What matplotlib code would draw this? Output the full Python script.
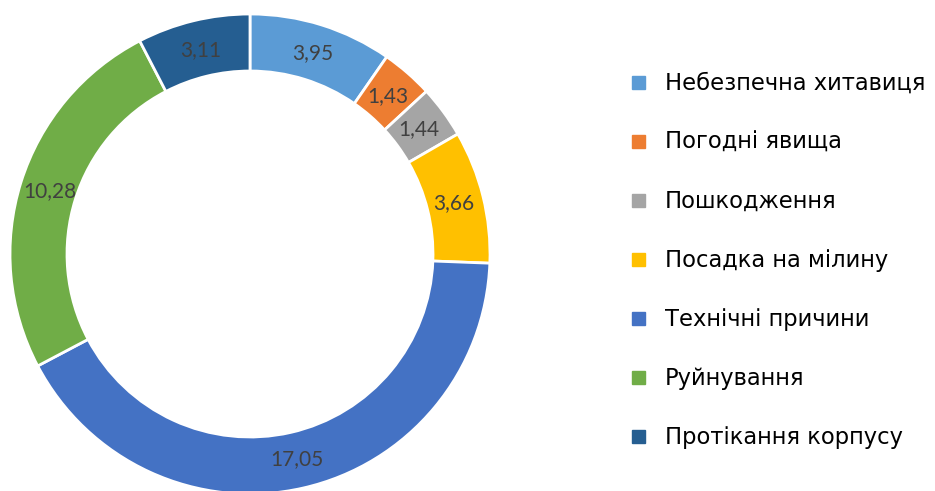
import matplotlib.pyplot as plt
from matplotlib.patches import Rectangle

labels = ['Небезпечна хитавиця', 'Погодні явища', 'Пошкодження',
          'Посадка на мілину', 'Технічні причини', 'Руйнування',
          'Протікання корпусу']
values = [3.95, 1.43, 1.44, 3.66, 17.05, 10.28, 3.11]
colors = ['#5B9BD5', '#ED7D31', '#A5A5A5', '#FFC000', '#4472C4', '#70AD47', '#255E91']

W, H = 935, 491
fig = plt.figure(figsize=(W / 100, H / 100), dpi=100)

# donut: centre (250, 254) px from top, outer radius 240 px
cx, cy, r = 250, 254, 240
ax = fig.add_axes([(cx - r) / W, (H - cy - r) / H, 2 * r / W, 2 * r / H])

ax.pie(values, colors=colors, startangle=90, counterclock=False, radius=1,
       labels=[f'{v:.2f}'.replace('.', ',') for v in values],
       labeldistance=0.875,
       textprops=dict(family='Lato', fontsize=15, color='#404040',
                      ha='center', va='center'),
       wedgeprops=dict(width=57 / 240, edgecolor='white', linewidth=2))
ax.set_xlim(-1, 1)
ax.set_ylim(-1, 1)
ax.set_aspect('equal')
ax.axis('off')

# legend drawn by hand
y0, step = 82, 59
for i, (lab, col) in enumerate(zip(labels, colors)):
    y = y0 + i * step
    fig.patches.append(Rectangle((632 / W, (H - y - 6.5) / H), 13 / W, 13 / H,
                                 transform=fig.transFigure, color=col))
    fig.text(665 / W, (H - y - 8) / H, lab, family='DejaVu Sans',
             fontsize=16.3, color='black', va='baseline', ha='left')

fig.savefig('out.png', dpi=100)
